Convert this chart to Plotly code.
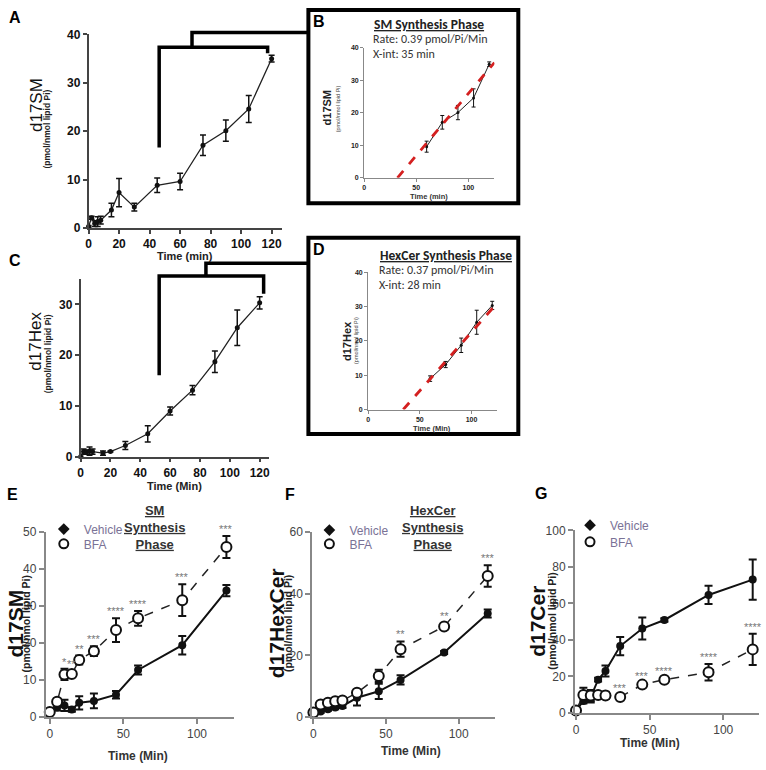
import plotly.graph_objects as go

W, H = 766, 770
def px(x): return x / W
def py(y): return 1 - y / H

# ---------------- data ----------------
time_ac = [0, 2, 4, 6, 8, 15, 20, 30, 45, 60, 75, 90, 105, 120]
sm_a = [0.3, 2.1, 0.9, 1.3, 1.6, 3.7, 7.3, 4.3, 8.8, 9.6, 17.1, 20.1, 24.6, 35.0]
sm_a_err = [0.2, 0.3, 0.6, 1.0, 0.8, 1.4, 2.9, 0.8, 1.5, 1.7, 2.1, 2.2, 2.8, 0.7]
hex_c = [0.0, 1.0, 0.9, 1.1, 1.0, 0.7, 1.0, 2.2, 4.5, 9.0, 13.1, 18.7, 25.4, 30.3]
hex_c_err = [0.1, 0.5, 0.4, 0.8, 0.5, 0.4, 0.1, 0.8, 1.6, 0.8, 0.9, 2.1, 3.5, 1.2]

sm_fit_x = [32, 125]
sm_fit_y = [0, 35.5]
hex_fit_x = [34, 126]
hex_fit_y = [0, 31.4]

time_efg = [0, 5, 10, 15, 20, 30, 45, 60, 90, 120]
sm_veh = [1.2, 2.5, 3.1, 2.0, 3.8, 4.3, 6.0, 12.7, 19.4, 34.2]
sm_veh_err = [0.5, 0.8, 1.5, 0.6, 1.8, 2.0, 1.0, 1.2, 2.5, 1.5]
sm_bfa = [1.3, 4.1, 11.5, 11.6, 15.4, 17.8, 23.5, 26.7, 31.6, 46.0]
sm_bfa_err = [0.5, 0.8, 1.5, 0.8, 1.2, 1.3, 3.2, 2.0, 4.3, 3.0]
sm_stars = ["", "", "*", "**", "**", "***", "****", "****", "***", "***"]

hx_veh = [1.1, 1.7, 2.5, 3.0, 3.5, 6.2, 8.3, 12.0, 20.9, 33.6]
hx_veh_err = [0.4, 0.4, 0.5, 0.5, 0.6, 2.5, 2.5, 1.5, 0.5, 1.3]
hx_bfa = [1.4, 4.0, 4.6, 5.1, 5.3, 7.8, 13.3, 22.0, 29.4, 45.8]
hx_bfa_err = [0.5, 0.5, 0.5, 0.5, 0.5, 1.0, 2.0, 2.5, 1.0, 3.5]
hx_stars = ["", "", "", "", "", "", "", "**", "**", "***"]

cer_veh = [1.3, 6.6, 8.7, 18.2, 23.0, 36.6, 46.2, 50.9, 64.6, 73.0]
cer_veh_err = [1.0, 1.5, 3.0, 1.0, 3.0, 5.0, 6.0, 1.0, 5.0, 11.0]
cer_bfa = [1.3, 9.8, 9.6, 9.8, 9.6, 8.7, 15.5, 18.2, 22.3, 34.8]
cer_bfa_err = [1.0, 4.0, 3.0, 1.0, 2.0, 1.0, 1.0, 1.0, 4.5, 8.5]
cer_stars = ["", "", "", "", "", "***", "***", "****", "****", "****"]

ARIAL = "Liberation Sans, Arial, sans-serif"
NARROW = "Liberation Sans Narrow, Arial Narrow, Liberation Sans, sans-serif"
CALIBRI = "Carlito, Lato, Open Sans, sans-serif"

fig = go.Figure()

# ---------------- axes layout ----------------
axes = {
    "1": ((86, 280), (0, 126.5), (28, 225), (0, 40), 20, 10),
    "2": ((363, 494), (0, 125), (41.7, 174), (0, 40), 50, 10),
    "3": ((78, 267), (0, 126), (277, 458), (0, 35), 20, 10),
    "4": ((367, 497), (0, 125), (270, 410), (0, 40), 50, 10),
    "5": ((43, 232), (-2.7, 125), (535, 723), (0, 50), 50, 10),
    "6": ((311, 495), (-0.7, 125.3), (535, 723), (0, 60), 50, 20),
    "7": ((575, 760), (-0.7, 124.3), (533, 719), (0, 100), 50, 20),
}
style = {
    "1": dict(lc="#444", lw=1.5, tf=dict(family=ARIAL, size=12, color="#111", weight="bold"), tl=4),
    "3": dict(lc="#444", lw=1.5, tf=dict(family=ARIAL, size=12, color="#111", weight="bold"), tl=4),
    "2": dict(lc="#888", lw=1, tf=dict(family=ARIAL, size=7, color="#222", weight="bold"), tl=3),
    "4": dict(lc="#888", lw=1, tf=dict(family=ARIAL, size=7, color="#222", weight="bold"), tl=3),
    "5": dict(lc="#888", lw=2, tf=dict(family=NARROW, size=12, color="#444"), tl=5),
    "6": dict(lc="#888", lw=2, tf=dict(family=NARROW, size=12, color="#444"), tl=5),
    "7": dict(lc="#888", lw=2, tf=dict(family=NARROW, size=12, color="#444"), tl=5),
}
lay = {}
for k, (xd, xr, yd, yr, dx, dy) in axes.items():
    s = style[k]
    xn = "xaxis" if k == "1" else "xaxis" + k
    yn = "yaxis" if k == "1" else "yaxis" + k
    common = dict(showline=True, linecolor=s["lc"], linewidth=s["lw"], ticks="outside",
                  ticklen=s["tl"], tickwidth=s["lw"], tickcolor=s["lc"], tickfont=s["tf"],
                  showgrid=False, zeroline=False, fixedrange=True)
    lay[xn] = dict(domain=[px(xd[0]), px(xd[1])], range=list(xr), dtick=dx, tick0=0,
                   anchor="y" if k == "1" else "y" + k, **common)
    lay[yn] = dict(domain=[py(yd[1]), py(yd[0])], range=list(yr), dtick=dy, tick0=0,
                   anchor="x" if k == "1" else "x" + k, **common)
fig.update_layout(**lay)

def ax(k):
    return ("x", "y") if k == "1" else ("x" + k, "y" + k)

# ---------------- A / C and B / D ----------------
def simple(k, t, v, e, msize=5, lw=1.3, ew=1.5, cap=3):
    xa, ya = ax(k)
    fig.add_trace(go.Scatter(x=t, y=v, xaxis=xa, yaxis=ya, mode="lines+markers",
                             line=dict(color="#222", width=lw),
                             marker=dict(color="#111", size=msize, symbol="circle"),
                             error_y=dict(type="data", array=e, color="#111", thickness=ew, width=cap),
                             showlegend=False, cliponaxis=False))

simple("1", time_ac, sm_a, sm_a_err)
simple("3", time_ac, hex_c, hex_c_err)
i60 = time_ac.index(60)
simple("2", time_ac[i60:], sm_a[i60:], sm_a_err[i60:], msize=3, lw=1, ew=1, cap=2)
simple("4", time_ac[i60:], hex_c[i60:], hex_c_err[i60:], msize=3, lw=1, ew=1, cap=2)
for k, fx, fy in (("2", sm_fit_x, sm_fit_y), ("4", hex_fit_x, hex_fit_y)):
    xa, ya = ax(k)
    fig.add_trace(go.Scatter(x=fx, y=fy, xaxis=xa, yaxis=ya, mode="lines",
                             line=dict(color="#d42020", width=2.8, dash="dash"),
                             showlegend=False))

# ---------------- E / F / G ----------------
def paired(k, legs, veh, veh_e, bfa, bfa_e, stars):
    xa, ya = ax(k)
    fig.add_trace(go.Scatter(x=time_efg, y=veh, xaxis=xa, yaxis=ya, mode="lines+markers",
                             name="Vehicle", showlegend=False,
                             line=dict(color="#111", width=2),
                             marker=dict(color="#111", size=8, symbol="circle"),
                             error_y=dict(type="data", array=veh_e, color="#111", thickness=2, width=4),
                             cliponaxis=False))
    fig.add_trace(go.Scatter(x=time_efg, y=bfa, xaxis=xa, yaxis=ya, mode="lines+markers",
                             name="BFA", showlegend=False,
                             line=dict(color="#222", width=1.5, dash="dash"),
                             marker=dict(color="white", size=10, symbol="circle",
                                         line=dict(color="#111", width=2)),
                             error_y=dict(type="data", array=bfa_e, color="#111", thickness=2, width=4),
                             cliponaxis=False))
    # legend-only marker entries
    fig.add_trace(go.Scatter(x=[None], y=[None], xaxis=xa, yaxis=ya, mode="markers",
                             name="Vehicle", legend=legs[0],
                             marker=dict(color="#111", size=9, symbol="diamond")))
    fig.add_trace(go.Scatter(x=[None], y=[None], xaxis=xa, yaxis=ya, mode="markers",
                             name="BFA", legend=legs[1],
                             marker=dict(color="white", size=9, symbol="circle",
                                         line=dict(color="#111", width=2))))
    for t, v, e, s in zip(time_efg, bfa, bfa_e, stars):
        if s:
            fig.add_annotation(x=t, y=v + e, xref=xa, yref=ya, text=s, showarrow=False,
                               yanchor="bottom", yshift=-1,
                               font=dict(family=ARIAL, size=11, color="#777"))

paired("5", ("legend", "legend2"), sm_veh, sm_veh_err, sm_bfa, sm_bfa_err, sm_stars)
paired("6", ("legend3", "legend4"), hx_veh, hx_veh_err, hx_bfa, hx_bfa_err, hx_stars)
paired("7", ("legend5", "legend6"), cer_veh, cer_veh_err, cer_bfa, cer_bfa_err, cer_stars)

legfont = dict(family=NARROW, size=12, color="#7a7296")
leg_pos = {
    "legend": (41, 517), "legend2": (41, 532),
    "legend3": (308, 518), "legend4": (308, 532),
    "legend5": (570, 513), "legend6": (570, 530),
}
legs = {}
for name, (lx, ly) in leg_pos.items():
    legs[name] = dict(x=px(lx), y=py(ly), xanchor="left", yanchor="top", font=legfont,
                      bgcolor="rgba(0,0,0,0)", itemwidth=30, tracegroupgap=0,
                      itemclick=False, itemdoubleclick=False)
fig.update_layout(**legs)

# ---------------- text ----------------
def txt(x, y, s, size, family=ARIAL, color="#111", angle=0, xanchor="center", weight="normal"):
    fig.add_annotation(x=px(x), y=py(y), xref="paper", yref="paper", text=s, showarrow=False,
                       textangle=angle, xanchor=xanchor, yanchor="middle", borderpad=0,
                       font=dict(family=family, size=size, color=color, weight=weight))

# panel letters
for L, x, y in (("A", 12, 11), ("B", 318, 15), ("C", 12, 258), ("D", 318, 247),
                ("E", 10, 497), ("F", 289, 497), ("G", 541, 495)):
    txt(x, y, L, 16, weight="bold", color="#000")

# A
txt(33, 100, "d17SM", 17, angle=-90, color="#111")
txt(44, 124, "(pmol/nmol lipid Pi)", 8.5, angle=-90, weight="bold", color="#222")
txt(183, 254, "Time (min)", 11, weight="bold", color="#222")
# C
txt(33, 340, "d17Hex", 17, angle=-90, color="#111")
txt(45, 353, "(pmol/nmol lipid Pi)", 8.5, angle=-90, weight="bold", color="#222")
txt(172, 488, "Time (Min)", 11, weight="bold", color="#222")
# B
txt(428, 18, "<b><u>SM Synthesis Phase</u></b>", 13.5, family=CALIBRI, color="#222")
txt(371, 33, "Rate: 0.39 pmol/Pi/Min", 12, family=CALIBRI, color="#333", xanchor="left")
txt(371, 48, "X-int: 35 min", 12, family=CALIBRI, color="#333", xanchor="left")
txt(326, 103, "d17SM", 11, angle=-90, weight="bold", color="#222")
txt(337, 104, "(pmol/nmol lipid Pi)", 5.5, angle=-90, color="#444")
txt(428, 193, "Time (min)", 7.5, weight="bold", color="#333")
# D
txt(445, 253, "<b><u>HexCer Synthesis Phase</u></b>", 13.5, family=CALIBRI, color="#222")
txt(377, 268, "Rate: 0.37 pmol/Pi/Min", 12, family=CALIBRI, color="#333", xanchor="left")
txt(377, 283, "X-int: 28 min", 12, family=CALIBRI, color="#333", xanchor="left")
txt(346, 340, "d17Hex", 11, angle=-90, weight="bold", color="#222")
txt(355, 340, "(pmol/nmol lipid Pi)", 5.5, angle=-90, color="#444")
txt(431, 429, "Time (Min)", 7.5, weight="bold", color="#333")
# E
txt(13, 628, "d17SM", 21, angle=-90, weight="bold", color="#111")
txt(23, 628, "(pmol/nmol lipid Pi)", 10.5, angle=-90, weight="bold", color="#222")
txt(136, 763, "Time (Min)", 12, family=NARROW, weight="bold", color="#333")
txt(152, 530, "<u>SM</u><br><u>Synthesis</u><br><u>Phase</u>", 13, weight="bold", color="#333")
# F
txt(275, 628, "d17HexCer", 21, angle=-90, weight="bold", color="#111")
txt(286, 628, "(pmol/nmol lipid Pi)", 10.5, angle=-90, weight="bold", color="#222")
txt(410, 758, "Time (Min)", 12, family=NARROW, weight="bold", color="#333")
txt(432, 530, "<u>HexCer</u><br><u>Synthesis</u><br><u>Phase</u>", 13, weight="bold", color="#333")
# G
txt(537, 626, "d17Cer", 21, angle=-90, weight="bold", color="#111")
txt(551, 626, "(pmol/nmol lipid Pi)", 10.5, angle=-90, weight="bold", color="#222")
txt(650, 750, "Time (Min)", 12, family=NARROW, weight="bold", color="#333")

# ---------------- boxes and brackets ----------------
def path(pts):
    return "M " + " L ".join(f"{px(x):.5f},{py(y):.5f}" for x, y in pts)

shapes = [
    dict(type="rect", xref="paper", yref="paper", x0=px(307), x1=px(518), y0=py(200), y1=py(3),
         line=dict(color="#000", width=4)),
    dict(type="rect", xref="paper", yref="paper", x0=px(307), x1=px(518), y0=py(435), y1=py(235),
         line=dict(color="#000", width=4)),
    dict(type="path", xref="paper", yref="paper",
         path=path([(157, 143), (157, 41), (266, 41), (266, 47)]), line=dict(color="#000", width=3.5)),
    dict(type="path", xref="paper", yref="paper",
         path=path([(190, 41), (190, 26), (307, 26)]), line=dict(color="#000", width=3.5)),
    dict(type="path", xref="paper", yref="paper",
         path=path([(157, 375), (157, 274), (262, 274), (262, 292)]), line=dict(color="#000", width=3.5)),
    dict(type="path", xref="paper", yref="paper",
         path=path([(204, 274), (204, 261), (307, 261)]), line=dict(color="#000", width=3.5)),
]
fig.update_layout(shapes=shapes)

fig.update_layout(width=W, height=H, margin=dict(l=0, r=0, t=0, b=0),
                  paper_bgcolor="white", plot_bgcolor="white", showlegend=True)

fig.write_html("out.html", config={"displayModeBar": False},
               post_script="document.body.style.margin='0';document.body.style.overflow='hidden';")
